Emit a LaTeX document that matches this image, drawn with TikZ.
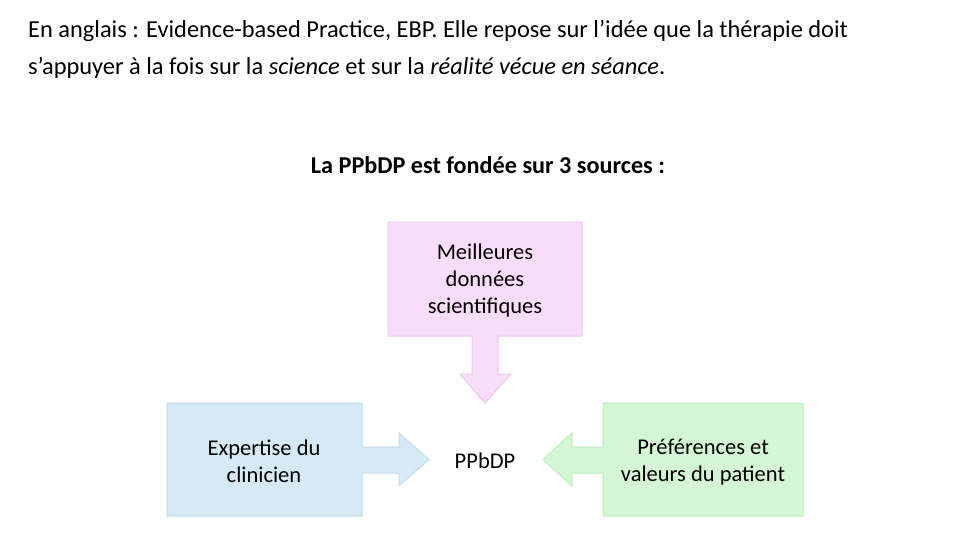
\documentclass[tikz,border=0pt]{standalone}
\usepackage{fontspec}
\setmainfont{Carlito}
\begin{document}
\begin{tikzpicture}[x=1pt,y=-1pt,
  bodytext/.style={font=\fontsize{24.4}{36}\selectfont, anchor=base west, inner sep=0pt},
  boxtext/.style={font=\fontsize{22.5}{27}\selectfont, align=center, inner sep=0pt},
  pinkcall/.style={fill=pinkfill, draw=pinkline, line width=1pt},
  bluecall/.style={fill=bluefill, draw=blueline, line width=1pt},
  greencall/.style={fill=greenfill, draw=greenline, line width=1pt}]
\definecolor{pinkfill}{RGB}{248,221,248}
\definecolor{pinkline}{RGB}{236,198,236}
\definecolor{bluefill}{RGB}{213,234,244}
\definecolor{blueline}{RGB}{190,222,238}
\definecolor{greenfill}{RGB}{213,246,213}
\definecolor{greenline}{RGB}{186,238,186}
\useasboundingbox (0,0) rectangle (967,533);
\fill[white] (0,0) rectangle (967,533);

\node[bodytext] (l1) at (28,37.5) {En anglais : Evidence-based Practice, EBP. Elle repose sur l’idée que la thérapie doit};
\node[bodytext] (l2) at (28,74) {s’appuyer à la fois sur la \textit{science} et sur la \textit{réalité vécue en séance}.};

\node[font=\fontsize{24.2}{28}\selectfont\bfseries, anchor=base, inner sep=0pt] (title) at (488,173) {La PPbDP est fondée sur 3 sources :};

% top callout (pink)
\path[pinkcall] (388,222) -- (582,222) -- (582,336) -- (498,336) -- (498,374) -- (511,374)
  -- (485,403) -- (460,374) -- (472,374) -- (472,336) -- (388,336) -- cycle;
% left callout (blue)
\path[bluecall] (167,403) -- (362,403) -- (362,447) -- (399,447) -- (399,433) -- (429,459.5)
  -- (399,486) -- (399,473) -- (362,473) -- (362,516) -- (167,516) -- cycle;
% right callout (green)
\path[greencall] (803,403) -- (603,403) -- (603,447) -- (572,447) -- (572,433) -- (543,459.5)
  -- (572,486) -- (572,473) -- (603,473) -- (603,516) -- (803,516) -- cycle;

\node[boxtext] (sci) at (485,280.5) {Meilleures\\données\\scientifiques};
\node[boxtext] (exp) at (264,461.5) {Expertise du\\clinicien};
\node[boxtext] (pref) at (703,462) {Préférences et\\valeurs du patient};
\node[boxtext] (center) at (485,461) {PPbDP};
\end{tikzpicture}
\end{document}
